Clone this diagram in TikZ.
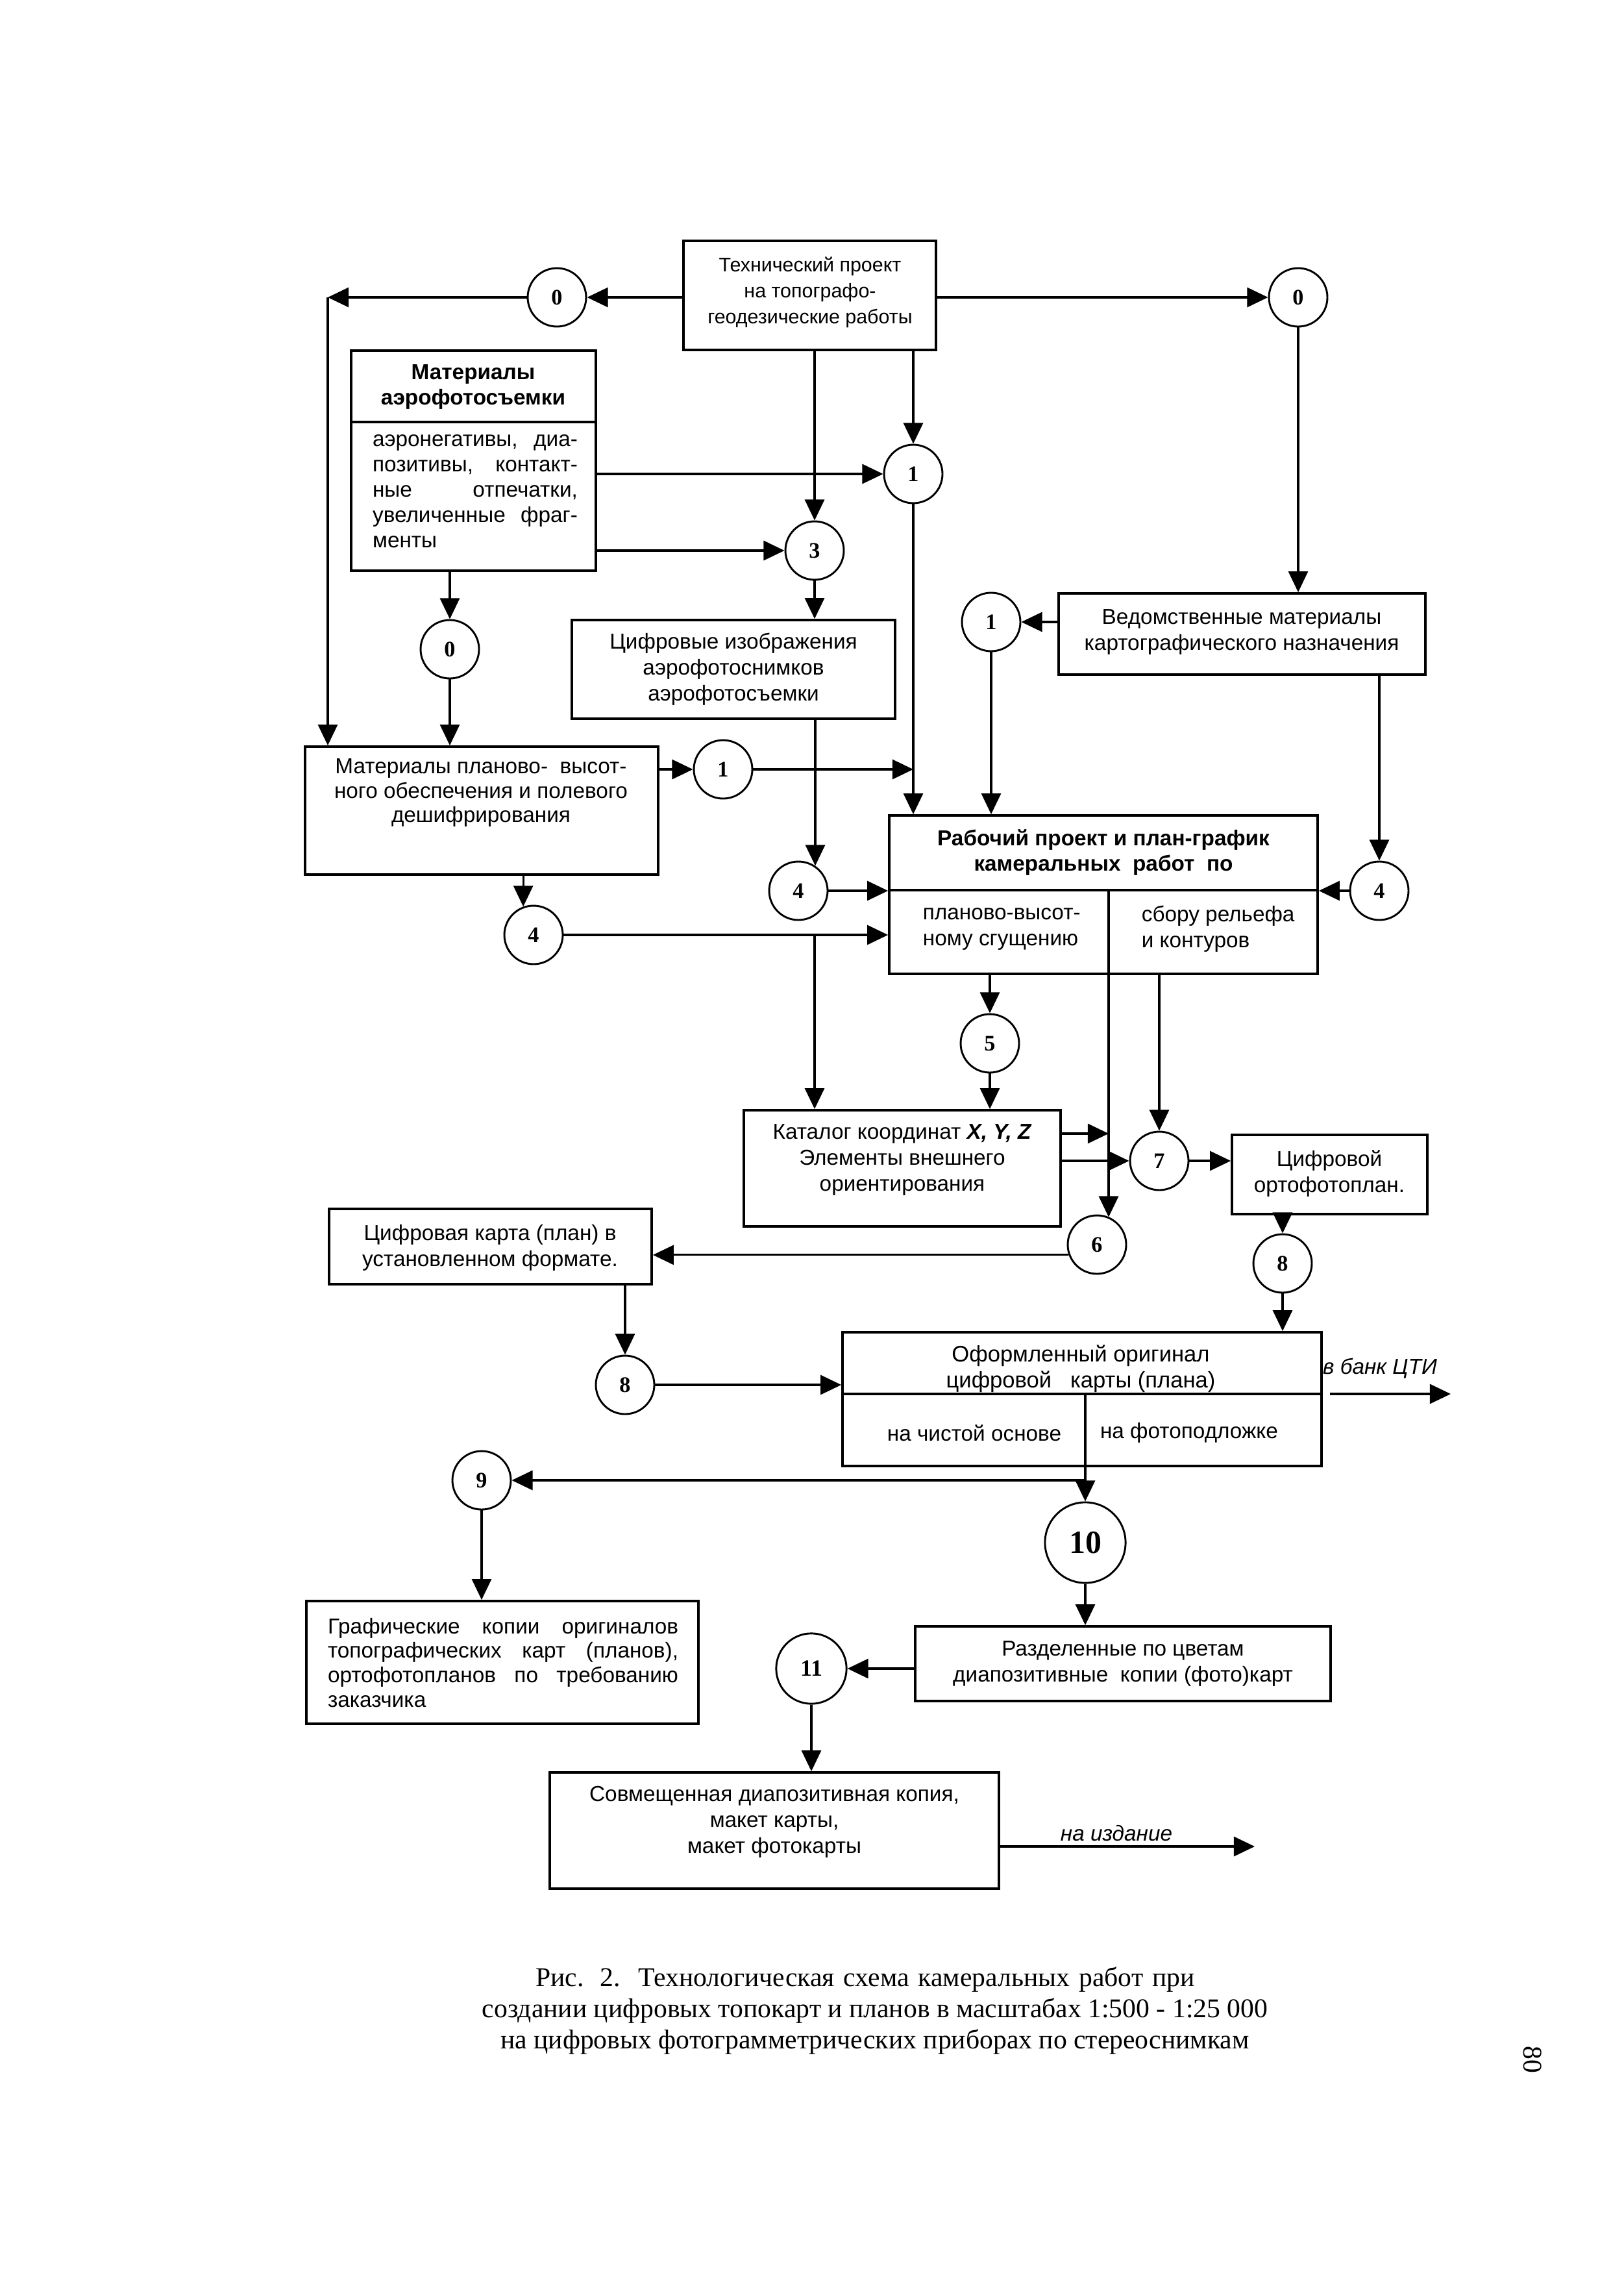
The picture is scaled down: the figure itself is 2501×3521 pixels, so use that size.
\documentclass[tikz,border=0pt]{standalone}
\usepackage{fontspec}
\setmainfont{Liberation Sans}
\newfontfamily\tmsfont{Liberation Serif}
\usetikzlibrary{arrows.meta,fit}
\begin{document}
\begin{tikzpicture}[x=0.24pt,y=-0.24pt,
  box/.style={draw, line width=0.9pt, inner sep=0pt},
  txt/.style={inner sep=0pt, align=center, font=\fontsize{8}{9.6}\selectfont},
  btxt/.style={inner sep=0pt, align=center, font=\bfseries\fontsize{8}{9.2}\selectfont},
  itxt/.style={inner sep=0pt, font=\itshape\fontsize{8}{9.6}\selectfont},
  circ/.style={draw, circle, line width=0.7pt, minimum size=21.6pt, inner sep=0pt, font=\tmsfont\bfseries\fontsize{8.2}{9}\selectfont},
  arr/.style={line width=0.75pt, -{Triangle[length=7.7pt,width=7.2pt]}},
  ln/.style={line width=0.75pt}]
\path[use as bounding box, fill=white] (0,0) rectangle (2501,3521);

% ---------- boxes ----------
\node[box, fit={(1053,371)(1442,539)}] (T) {};
\node[txt, font=\fontsize{7.3}{9.6}\selectfont] (Tt) at (1248,450) {Технический проект\\на топографо-\\геодезические работы};

\node[box, fit={(541,540)(918,879)}] (A) {};
\draw[line width=0.9pt] (541,650) -- (918,650);
\node[btxt] (At) at (729,596) {Материалы\\аэрофотосъемки};
\node[inner sep=0pt, align=left, font=\fontsize{8}{9.36}\selectfont] (Ab) at (732,757)
 {\makebox[75.8pt][s]{аэронегативы, диа-}\\
  \makebox[75.8pt][s]{позитивы, контакт-}\\
  \makebox[75.8pt][s]{ные отпечатки,}\\
  \makebox[75.8pt][s]{увеличенные фраг-}\\
  менты};

\node[box, fit={(881,955)(1379,1107)}] (D) {};
\node[txt] (Dt) at (1130,1031) {Цифровые изображения\\аэрофотоснимков\\аэрофотосъемки};

\node[box, fit={(1631,914)(2196,1039)}] (Ved) {};
\node[txt] (Vedt) at (1913,973) {Ведомственные материалы\\картографического назначения};

\node[box, fit={(470,1150)(1014,1347)}] (MP) {};
\node[txt, font=\fontsize{8}{9.1}\selectfont] (MPt) at (741,1221) {Материалы планово-\ \ высот-\\ного обеспечения и полевого\\дешифрирования};

\node[box, fit={(1370,1256)(2030,1500)}] (R) {};
\draw[line width=0.9pt] (1370,1371) -- (2030,1371);
\coordinate (Rv) at (1708,1371);
\node[btxt] (Rt) at (1700,1313) {Рабочий проект и план-график\\камеральных\ \ работ\ \ по};
\node[txt, align=left, anchor=west] (Rl) at (1421,1431) {планово-высот-\\ному сгущению};
\node[txt, align=left, anchor=west] (Rr) at (1758,1431) {сбору рельефа\\и контуров};

\node[box, fit={(1146,1710)(1634,1889)}] (Cat) {};
\node[txt] (Catt) at (1390,1786) {Каталог координат \textbf{\textit{X, Y, Z}}\\Элементы внешнего\\ориентирования};

\node[box, fit={(1898,1748)(2199,1870)}] (O) {};
\node[txt] (Ot) at (2048,1808) {Цифровой\\ортофотоплан.};

\node[box, fit={(507,1862)(1004,1978)}] (Z) {};
\node[txt] (Zt) at (755,1922) {Цифровая карта (план) в\\установленном формате.};

\node[box, fit={(1298,2052)(2036,2258)}] (F) {};
\draw[line width=0.9pt] (1298,2147) -- (2036,2147);
\coordinate (Fv) at (1672,2147);
\node[txt, font=\fontsize{8.3}{9.6}\selectfont] (Ft) at (1665,2108) {Оформленный оригинал\\цифровой\ \ \ карты (плана)};
\node[txt] (Fl) at (1501,2207) {на чистой основе};
\node[txt] (Fr) at (1832,2207) {на фотоподложке};

\node[box, fit={(472,2466)(1076,2655)}] (G) {};
\node[inner sep=0pt, align=left, font=\fontsize{8}{9.1}\selectfont] (Gt) at (775,2561)
 {\makebox[129.6pt][s]{Графические копии оригиналов}\\
  \makebox[129.6pt][s]{топографических карт (планов),}\\
  \makebox[129.6pt][s]{ортофотопланов по требованию}\\
  заказчика};

\node[box, fit={(1410,2505)(2050,2620)}] (S) {};
\node[txt] (St) at (1730,2562) {Разделенные по цветам\\диапозитивные\ \ копии (фото)карт};

\node[box, fit={(847,2730)(1539,2909)}] (K) {};
\node[txt] (Kt) at (1193,2806) {Совмещенная диапозитивная копия,\\макет карты,\\макет фотокарты};

% ---------- circles ----------
\node[circ] (c0l) at (858,458) {0};
\node[circ] (c0r) at (2000,458) {0};
\node[circ] (c1t) at (1407,730) {1};
\node[circ] (c3) at (1255,848) {3};
\node[circ] (c0m) at (693,1000) {0};
\node[circ] (c1v) at (1527,958) {1};
\node[circ] (c1m) at (1114,1185) {1};
\node[circ] (c4a) at (1230,1372) {4};
\node[circ] (c4b) at (822,1440) {4};
\node[circ] (c4c) at (2125,1372) {4};
\node[circ] (c5) at (1525,1607) {5};
\node[circ] (c7) at (1786,1788) {7};
\node[circ] (c6) at (1690,1917) {6};
\node[circ] (c8r) at (1976,1946) {8};
\node[circ] (c8l) at (963,2133) {8};
\node[circ] (c9) at (742,2280) {9};
\node[circ, minimum size=29.8pt, font=\tmsfont\bfseries\fontsize{12}{13}\selectfont] (c10) at (1672,2376) {10};
\node[circ, minimum size=26pt, font=\tmsfont\bfseries\fontsize{8.6}{9}\selectfont] (c11) at (1250,2570) {11};

% ---------- connectors ----------
\coordinate (cL) at (505,458);
\draw[arr] (T.west |- c0l) -- (c0l.east);
\draw[arr] (c0l.west) -- (cL);
\draw[arr] (cL) -- (cL |- MP.north);
\draw[arr] (T.east |- c0r) -- (c0r.west);
\draw[arr] (c0r.south) -- (c0r |- Ved.north);
\draw[arr] (c3 |- T.south) -- (c3.north);
\draw[arr] (c1t |- T.south) -- (c1t.north);
\draw[arr] (A.east |- c1t) -- (c1t.west);
\draw[arr] (A.east |- c3) -- (c3.west);
\draw[arr] (c0m |- A.south) -- (c0m.north);
\draw[arr] (c0m.south) -- (c0m |- MP.north);
\draw[arr] (c3.south) -- (c3 |- D.north);
\draw[arr] (D.south -| c4a.56) -- (c4a.56);
\draw[arr] (c4a.east) -- (R.west |- c4a.east);
\draw[arr] (MP.east |- c1m) -- (c1m.west);
\coordinate (j1) at (c1t |- c1m);
\draw[arr] (c1m.east) -- (j1);
\draw[arr] (c1t.south) -- (c1t |- R.north);
\draw[arr] (Ved.west |- c1v) -- (c1v.east);
\draw[arr] (c1v.south) -- (c1v |- R.north);
\draw[arr] (c4c |- Ved.south) -- (c4c.north);
\draw[arr] (c4c.west) -- (R.east |- c4c);
\draw[arr] (MP.south -| c4b.110) -- (c4b.110);
\draw[arr] (c4b.east) -- (R.west |- c4b);
\coordinate (j2) at (c3 |- c4b);
\draw[arr] (j2) -- (j2 |- Cat.north);
\draw[arr] (c5 |- R.south) -- (c5.north);
\draw[arr] (c5.south) -- (c5 |- Cat.north);
\coordinate (j3) at (1708,1746);
\draw[arr] (Cat.east |- j3) -- (j3);
\draw[arr] (Rv) -- (Rv |- c6.66);
\draw[arr] (Cat.east |- c7) -- (c7.west);
\draw[arr] (c7 |- R.south) -- (c7.north);
\draw[arr] (c7.east) -- (O.west |- c7);
\draw[arr] (c8r |- O.south) -- (c8r.north);
\draw[arr] (c8r.south) -- (c8r |- F.north);
\draw[arr] (c6.200) -- (Z.east |- c6.200);
\draw[arr] (c8l |- Z.south) -- (c8l.north);
\draw[arr] (c8l.east) -- (F.west |- c8l);
\draw[arr] (Fv) -- (Fv |- c10.north);
\coordinate (j4) at (1672,2280);
\draw[arr] (j4) -- (c9.east);
\draw[arr] (c9.south) -- (c9 |- G.north);
\draw[arr] (c10.south) -- (c10 |- S.north);
\draw[arr] (S.west |- c11) -- (c11.east);
\draw[arr] (c11.south) -- (c11 |- K.north);
\coordinate (outF) at (2235,2147);
\draw[arr, shorten <=2.6pt] (F.east |- outF) -- (outF);
\node[itxt] (bank) at (2126,2108) {в банк ЦТИ};
\coordinate (outK) at (1933,2844);
\draw[arr] (K.east |- outK) -- (outK);
\node[itxt] (izd) at (1720,2824) {на издание};

% ---------- caption ----------
\node[inner sep=0pt, align=center, font=\tmsfont\fontsize{10}{11.5}\selectfont] (cap) at (1348,3097)
 {\makebox[243.6pt][s]{Рис. 2.\ \ Технологическая схема камеральных работ при}\hspace*{7.2pt}\\создании цифровых топокарт и планов в масштабах 1:500 - 1:25 000\\на цифровых фотограмметрических приборах по стереоснимкам};
\node[inner sep=0pt, rotate=-90, font=\tmsfont\fontsize{10}{12}\selectfont] (pg) at (2361,3172) {80};
\end{tikzpicture}
\end{document}
